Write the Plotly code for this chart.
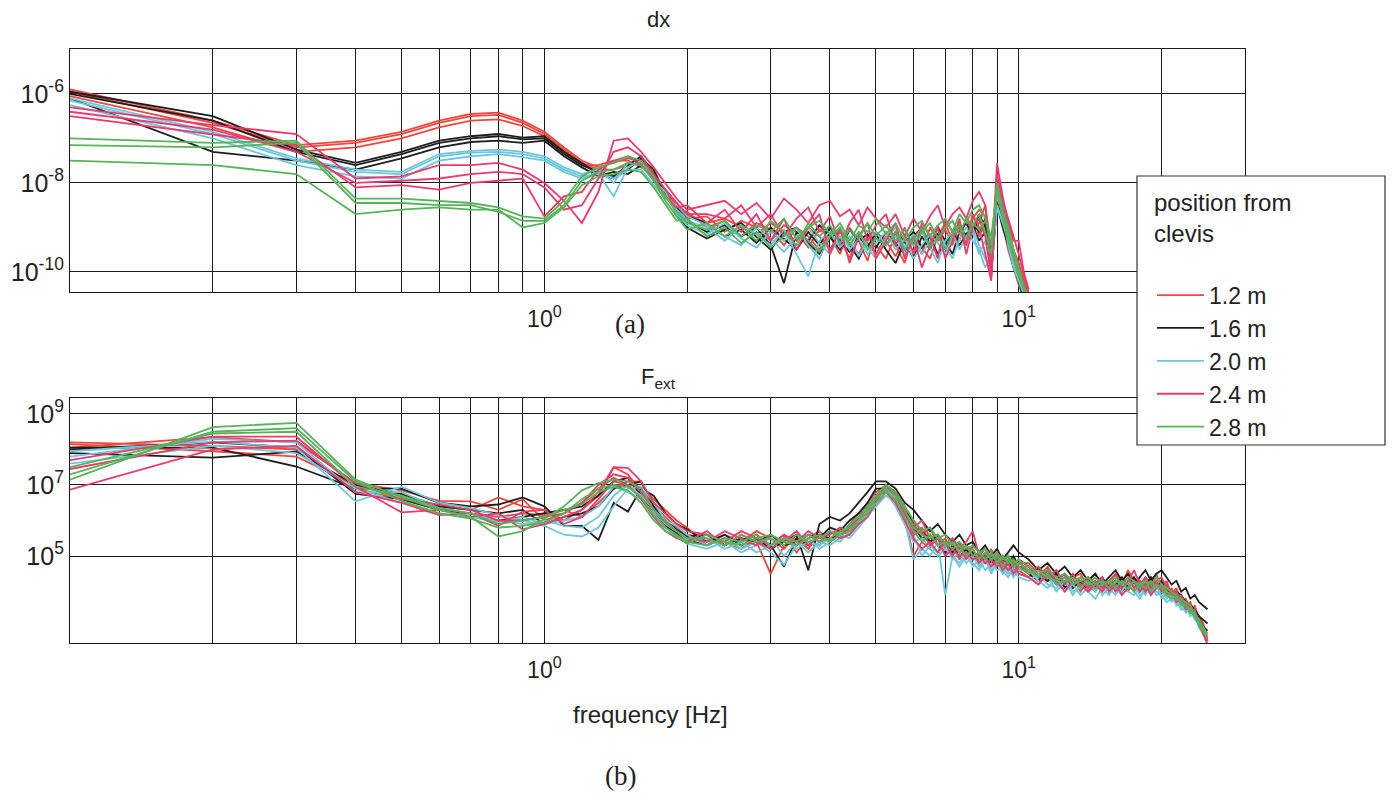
import plotly.graph_objects as go

# ---------------- data (values are log10 of the plotted quantity) ----------------
FREQ_TOP = [0.1, 0.2, 0.3, 0.4, 0.5, 0.6, 0.7, 0.8, 0.9, 1.0, 1.1, 1.2, 1.3, 1.4, 1.5, 1.6, 1.7, 1.8, 1.9, 2.0,
            2.2, 2.4, 2.6, 2.8, 3.0, 3.2, 3.4, 3.6, 3.8, 4.0, 4.2, 4.4, 4.6, 4.8, 5.0,
            5.25, 5.5, 5.75, 6.0, 6.25, 6.5, 6.75, 7.0, 7.25, 7.5, 7.75, 8.0, 8.25, 8.5, 8.75, 9.0, 9.25, 9.5, 9.75,
            10.0, 10.25, 10.5]
FREQ_BOT = [0.1, 0.2, 0.3, 0.4, 0.5, 0.6, 0.7, 0.8, 0.9, 1.0, 1.1, 1.2, 1.3, 1.4, 1.5, 1.6, 1.7, 1.8, 1.9, 2.0,
            2.2, 2.4, 2.6, 2.8, 3.0, 3.2, 3.4, 3.6, 3.8, 4.0, 4.2, 4.4, 4.6, 4.8, 5.0,
            5.25, 5.5, 5.75, 6.0, 6.25, 6.5, 6.75, 7.0, 7.25, 7.5, 7.75, 8.0, 8.25, 8.5, 8.75, 9.0, 9.25, 9.5, 9.75, 10.0,
            10.5, 11.0, 11.5, 12.0, 12.5, 13.0, 13.5, 14.0, 14.5, 15.0, 15.5, 16.0, 16.5, 17.0, 17.5, 18.0, 18.5, 19.0,
            19.5, 20.0, 20.5, 21.0, 21.5, 22.0, 22.5, 23.0, 23.5, 24.0, 24.5, 25.0]

POSITIONS = ["1.2 m", "1.6 m", "2.0 m", "2.4 m", "2.8 m"]
COLORS = ["#f0463c", "#1e1e1e", "#6cc6dc", "#ec3a6c", "#55b35a"]

# dx, log10 values
DX_1_2 = [
    [-5.90, -6.60, -7.15, -7.05, -6.85, -6.60, -6.45, -6.42, -6.60, -6.85, -7.20, -7.50, -7.65, -7.55, -7.45, -7.50, -7.80, -8.20, -8.50, -8.70,
     -8.90, -8.80, -9.00, -9.15, -8.90, -9.10, -9.30, -9.00, -9.20, -9.50, -9.10, -9.35, -9.60, -9.20, -9.40,
     -9.70, -9.15, -9.50, -9.25, -9.60, -9.00, -9.30, -9.05, -9.40, -8.90, -9.20, -8.80, -8.60, -8.75, -9.80, -8.20, -8.70, -9.20, -9.70, -10.00, -10.40, -10.70],
    [-5.95, -6.65, -7.20, -7.10, -6.90, -6.65, -6.50, -6.47, -6.65, -6.90, -7.25, -7.55, -7.70, -7.70, -7.60, -7.55, -7.90, -8.15, -8.45, -8.80,
     -8.75, -9.10, -8.85, -9.00, -9.30, -8.95, -9.10, -9.45, -9.05, -9.20, -9.60, -9.00, -9.30, -9.75, -9.10,
     -9.30, -9.65, -9.20, -9.55, -9.05, -9.40, -8.95, -9.50, -9.10, -9.30, -8.80, -9.10, -8.90, -8.50, -9.50, -8.10, -8.50, -9.00, -9.50, -9.80, -10.20, -10.60],
    [-6.05, -6.75, -7.30, -7.20, -7.00, -6.75, -6.60, -6.57, -6.72, -6.95, -7.30, -7.60, -7.60, -7.50, -7.50, -7.65, -7.75, -8.30, -8.60, -8.65,
     -9.00, -8.85, -9.20, -8.90, -9.05, -9.40, -9.00, -9.20, -9.50, -9.10, -9.25, -9.70, -9.10, -9.35, -9.60,
     -9.20, -9.40, -9.80, -9.10, -9.45, -9.70, -9.20, -8.90, -9.30, -9.00, -9.40, -8.70, -9.20, -8.90, -10.10, -8.40, -8.90, -9.50, -9.90, -10.30, -10.60, -10.80],
]
DX_1_6 = [
    [-5.95, -6.50, -7.25, -7.55, -7.30, -7.05, -6.95, -6.90, -6.98, -6.95, -7.30, -7.55, -7.80, -7.90, -7.70, -7.45, -7.70, -8.25, -8.60, -8.85,
     -9.10, -8.95, -9.20, -9.00, -9.40, -10.25, -9.10, -9.30, -8.95, -9.20, -9.50, -9.05, -9.30, -9.15, -9.45,
     -9.10, -9.35, -9.60, -9.20, -9.00, -9.40, -9.15, -9.50, -9.10, -8.95, -9.20, -8.90, -9.10, -8.80, -9.90, -8.30, -8.80, -9.30, -9.80, -10.10, -10.50, -10.70],
    [-6.00, -6.60, -7.30, -7.60, -7.35, -7.10, -7.00, -6.95, -7.02, -7.00, -7.35, -7.60, -7.75, -7.85, -7.60, -7.40, -7.80, -8.30, -8.55, -8.75,
     -8.90, -9.20, -9.05, -9.35, -9.00, -9.25, -9.50, -9.10, -9.40, -9.00, -9.30, -9.55, -9.20, -9.45, -9.10,
     -9.40, -9.10, -9.30, -9.70, -9.20, -9.50, -9.00, -9.30, -9.60, -9.10, -8.90, -9.20, -8.70, -9.00, -9.60, -8.40, -8.60, -9.10, -9.60, -10.00, -10.30, -10.60],
    [-6.10, -7.30, -7.50, -7.70, -7.45, -7.20, -7.08, -7.05, -7.10, -7.05, -7.40, -7.65, -7.85, -7.75, -7.80, -7.60, -7.90, -8.20, -8.70, -9.00,
     -9.25, -9.05, -8.90, -9.20, -9.50, -9.10, -9.00, -9.35, -9.60, -9.25, -9.05, -9.40, -9.70, -9.30, -9.15,
     -9.50, -9.80, -9.30, -9.10, -9.45, -9.20, -9.60, -9.35, -9.10, -9.40, -9.15, -8.95, -9.30, -9.10, -10.00, -8.50, -9.00, -9.40, -9.90, -10.20, -10.60, -10.80],
]
DX_2_0 = [
    [-6.10, -6.85, -7.45, -7.70, -7.75, -7.35, -7.28, -7.25, -7.30, -7.40, -7.65, -7.80, -7.70, -8.00, -7.55, -7.60, -7.90, -8.30, -8.60, -8.85,
     -9.00, -9.30, -8.95, -9.15, -9.40, -9.05, -9.60, -10.10, -9.30, -9.10, -9.45, -9.20, -9.65, -9.30, -9.10,
     -9.40, -9.20, -9.60, -9.30, -9.10, -9.45, -9.80, -9.30, -9.10, -9.50, -9.20, -9.00, -9.40, -9.70, -10.00, -8.50, -8.90, -9.30, -9.80, -10.10, -10.50, -10.70],
    [-6.15, -6.90, -7.50, -7.75, -7.80, -7.40, -7.32, -7.30, -7.35, -7.45, -7.70, -7.85, -7.80, -8.30, -7.65, -7.50, -7.95, -8.20, -8.70, -8.95,
     -9.15, -8.90, -9.25, -9.45, -9.10, -9.30, -9.00, -9.40, -9.70, -9.20, -9.05, -9.50, -9.25, -9.60, -9.35,
     -9.10, -9.50, -9.25, -9.70, -9.40, -9.15, -9.35, -9.60, -9.20, -9.00, -9.35, -9.10, -9.60, -9.30, -9.70, -8.60, -8.80, -9.20, -9.70, -10.00, -10.40, -10.60],
    [-6.25, -7.00, -7.60, -7.85, -7.90, -7.50, -7.40, -7.35, -7.42, -7.50, -7.75, -7.90, -7.75, -7.90, -7.70, -7.70, -8.05, -8.35, -8.50, -8.75,
     -8.95, -9.20, -9.40, -9.00, -9.25, -9.55, -9.20, -9.00, -9.35, -9.60, -9.20, -9.40, -9.10, -9.45, -9.70,
     -9.25, -9.00, -9.45, -9.15, -9.60, -9.30, -9.05, -9.40, -9.70, -9.25, -9.00, -9.30, -9.50, -9.90, -9.60, -8.30, -8.70, -9.40, -9.90, -10.20, -10.50, -10.80],
]
DX_2_4 = [
    [-6.30, -6.70, -6.90, -7.90, -7.85, -7.60, -7.60, -7.55, -7.70, -8.00, -8.40, -8.90, -8.20, -7.05, -7.00, -7.30, -7.65, -8.00, -8.35, -8.60,
     -8.50, -8.40, -8.70, -8.45, -8.80, -8.35, -8.60, -8.90, -8.50, -8.40, -8.75, -8.60, -8.95, -8.55, -8.80,
     -9.00, -8.70, -9.20, -8.80, -9.10, -8.75, -8.50, -9.00, -8.70, -8.55, -8.80, -8.40, -8.20, -8.50, -9.90, -7.55, -8.30, -8.90, -9.30, -9.30, -10.00, -10.40],
    [-6.40, -6.80, -7.30, -8.00, -7.95, -7.90, -7.80, -7.75, -7.80, -8.10, -8.60, -8.50, -7.90, -7.30, -7.20, -7.40, -7.80, -8.15, -8.45, -8.70,
     -8.70, -8.80, -8.50, -9.00, -8.70, -9.20, -8.80, -8.55, -9.10, -8.75, -9.40, -8.90, -8.60, -9.30, -8.95,
     -8.70, -9.40, -9.00, -9.60, -8.90, -9.20, -9.70, -8.80, -9.10, -9.00, -9.40, -8.70, -9.00, -9.60, -10.20, -7.80, -8.40, -8.80, -9.20, -9.60, -10.10, -10.50],
    [-6.50, -6.90, -7.15, -8.10, -8.05, -8.15, -8.00, -7.95, -7.90, -8.75, -8.30, -8.20, -7.70, -7.50, -7.40, -7.60, -7.90, -8.30, -8.55, -8.50,
     -8.90, -8.60, -9.10, -8.70, -9.30, -8.80, -9.50, -9.00, -8.70, -9.60, -9.00, -9.80, -9.20, -8.90, -9.70,
     -9.30, -8.90, -9.70, -9.20, -9.90, -9.40, -9.00, -9.70, -9.30, -8.80, -9.60, -9.00, -8.80, -9.20, -10.10, -8.00, -8.50, -9.10, -9.50, -9.90, -10.30, -10.60],
]
DX_2_8 = [
    [-7.00, -7.10, -7.05, -8.35, -8.35, -8.40, -8.45, -8.55, -8.75, -8.80, -8.40, -7.85, -7.65, -7.55, -7.40, -7.50, -7.85, -8.30, -8.65, -8.90,
     -9.05, -8.85, -9.20, -8.95, -9.10, -8.80, -9.25, -9.00, -8.85, -9.15, -8.90, -9.30, -8.95, -9.10, -8.80,
     -9.15, -8.90, -9.30, -9.00, -8.85, -9.20, -8.95, -8.80, -9.10, -8.70, -8.90, -8.60, -8.50, -8.80, -9.40, -8.00, -8.60, -9.00, -9.50, -9.90, -10.30, -10.60],
    [-7.15, -7.20, -7.10, -8.45, -8.45, -8.50, -8.50, -8.65, -8.85, -8.85, -8.50, -7.95, -7.75, -7.70, -7.55, -7.60, -7.95, -8.40, -8.75, -9.05,
     -8.90, -9.20, -8.95, -9.30, -8.85, -9.10, -9.40, -8.90, -9.20, -8.95, -9.35, -9.05, -9.25, -8.90, -9.20,
     -8.95, -9.30, -9.05, -9.40, -9.10, -8.90, -9.25, -9.00, -8.85, -9.15, -8.80, -8.95, -8.70, -9.10, -9.60, -8.10, -8.70, -9.10, -9.60, -10.00, -10.40, -10.70],
    [-7.50, -7.60, -7.80, -8.70, -8.60, -8.55, -8.60, -8.60, -9.00, -8.90, -8.55, -8.05, -7.85, -7.80, -7.70, -7.75, -8.10, -8.50, -8.85, -8.80,
     -9.20, -9.00, -9.35, -9.10, -9.45, -9.20, -9.00, -9.30, -9.55, -9.20, -9.00, -9.40, -9.10, -9.50, -9.25,
     -9.40, -9.10, -9.50, -9.25, -9.00, -9.45, -9.20, -9.50, -9.15, -8.95, -9.25, -8.90, -9.05, -8.85, -9.20, -8.20, -8.80, -9.30, -9.70, -10.10, -10.40, -10.80],
]

# F_ext, log10 values
FEXT_1_2 = [
    [8.15, 7.95, 7.80, 7.00, 6.70, 6.40, 6.30, 6.65, 6.40, 6.30, 6.00, 6.30, 6.70, 7.50, 7.30, 6.80, 6.40, 6.10, 5.80, 5.60,
     5.50, 5.30, 5.60, 5.40, 4.50, 5.30, 5.50, 5.20, 5.60, 5.40, 5.70, 5.60, 6.00, 6.30, 6.60,
     6.90, 6.70, 6.10, 5.00, 5.40, 5.20, 5.60, 5.00, 5.30, 4.90, 5.20, 5.00, 4.80, 5.10, 4.70, 5.00, 4.80, 4.60, 4.90, 4.70,
     4.60, 4.40, 4.70, 4.30, 4.50, 4.10, 4.40, 4.20, 4.00, 4.30, 4.10, 4.50, 4.20, 4.60, 4.30, 4.00, 4.40, 4.20, 4.50, 4.10,
     4.30, 3.90, 4.10, 3.70, 3.80, 3.50, 3.60, 3.20, 3.00, 2.70],
    [8.05, 8.35, 8.20, 7.05, 6.85, 6.55, 6.54, 6.30, 6.60, 6.00, 6.20, 6.50, 6.90, 7.20, 7.00, 6.95, 6.60, 6.30, 6.00, 5.80,
     5.30, 5.60, 5.40, 5.70, 5.50, 5.20, 5.60, 5.40, 5.30, 5.70, 5.50, 5.90, 6.20, 6.50, 6.80,
     7.00, 6.80, 6.40, 5.90, 5.60, 5.80, 5.30, 5.50, 5.10, 5.40, 5.00, 5.30, 5.10, 4.90, 5.20, 4.80, 5.00, 4.70, 4.90, 4.60,
     4.40, 4.70, 4.30, 4.50, 4.20, 4.40, 4.00, 4.30, 4.50, 4.10, 4.30, 4.00, 4.40, 4.20, 4.00, 4.30, 4.10, 4.40, 4.20, 4.00,
     3.90, 4.10, 3.80, 3.90, 3.60, 3.70, 3.40, 3.30, 3.10, 2.60],
    [8.20, 8.10, 8.00, 6.90, 6.60, 6.30, 6.20, 6.10, 6.20, 6.15, 6.30, 6.10, 6.50, 6.90, 7.10, 7.10, 6.30, 5.90, 5.60, 5.50,
     5.60, 5.40, 5.20, 5.50, 5.30, 5.60, 5.10, 5.50, 5.70, 5.40, 5.80, 5.70, 5.90, 6.20, 6.40,
     6.80, 6.60, 6.20, 5.70, 5.80, 5.40, 5.50, 5.20, 5.40, 5.10, 5.30, 5.10, 4.90, 5.00, 4.80, 4.90, 4.70, 4.80, 4.60, 4.80,
     4.80, 4.50, 4.30, 4.60, 4.20, 4.40, 4.50, 4.10, 4.30, 4.00, 4.20, 4.30, 4.10, 4.00, 4.40, 4.20, 4.00, 4.30, 4.10, 4.30,
     4.00, 3.80, 4.00, 3.80, 3.60, 3.50, 3.40, 3.20, 3.00, 2.80],
]
FEXT_1_6 = [
    [8.05, 8.05, 7.52, 6.90, 6.90, 6.50, 6.40, 6.45, 6.65, 6.40, 5.85, 5.85, 5.45, 6.50, 6.25, 6.90, 6.70, 6.20, 5.90, 5.75,
     5.40, 5.60, 5.30, 5.50, 5.20, 5.40, 5.60, 4.60, 5.90, 6.10, 6.00, 6.20, 6.50, 6.80, 7.10,
     7.10, 6.90, 6.50, 6.30, 6.00, 5.70, 5.90, 5.60, 5.40, 5.60, 5.30, 5.40, 5.10, 5.30, 5.00, 5.20, 4.90, 5.10, 5.30, 5.10,
     4.90, 4.60, 4.80, 4.50, 4.70, 4.40, 4.60, 4.30, 4.50, 4.20, 4.40, 4.60, 4.30, 4.50, 4.20, 4.40, 4.60, 4.30, 4.50, 4.60,
     4.40, 4.20, 4.30, 4.00, 4.10, 3.80, 3.90, 3.70, 3.60, 3.50],
    [7.90, 7.77, 7.94, 7.00, 6.75, 6.40, 6.30, 6.20, 6.30, 5.90, 6.10, 6.20, 6.40, 6.90, 7.00, 7.10, 6.40, 6.00, 5.75, 5.55,
     5.60, 5.30, 5.50, 5.40, 5.60, 5.30, 5.40, 5.60, 5.50, 5.80, 5.70, 6.00, 6.20, 6.50, 6.90,
     6.90, 6.60, 6.20, 5.80, 5.50, 5.60, 5.30, 5.10, 5.30, 5.00, 5.20, 4.90, 5.10, 4.80, 5.00, 4.70, 4.90, 4.80, 5.00, 4.70,
     4.50, 4.30, 4.60, 4.20, 4.40, 4.10, 4.30, 4.00, 4.20, 4.40, 4.10, 4.30, 4.00, 4.20, 4.40, 4.10, 4.30, 4.00, 4.20, 4.10,
     3.90, 4.00, 3.80, 3.70, 3.60, 3.50, 3.30, 3.20, 3.00, 2.90],
    [8.00, 8.20, 8.05, 6.75, 6.60, 6.30, 6.20, 6.00, 6.10, 6.20, 6.30, 6.40, 6.70, 7.10, 7.20, 6.70, 6.20, 5.85, 5.65, 5.45,
     5.30, 5.50, 5.40, 5.60, 5.30, 4.70, 5.50, 5.30, 5.60, 5.50, 5.60, 5.80, 6.10, 6.40, 6.70,
     7.00, 6.70, 6.30, 6.00, 5.70, 5.40, 5.60, 5.30, 5.10, 5.30, 5.00, 5.10, 4.90, 5.00, 4.80, 4.90, 4.70, 4.90, 4.60, 4.90,
     4.70, 4.40, 4.30, 4.50, 4.10, 4.30, 4.20, 4.40, 4.10, 4.30, 4.00, 4.20, 4.40, 4.10, 4.30, 4.00, 4.20, 4.40, 4.10, 4.30,
     4.10, 3.90, 4.00, 3.90, 3.70, 3.60, 3.50, 3.30, 3.20, 3.10],
]
FEXT_2_0 = [
    [7.95, 8.22, 8.05, 6.54, 6.95, 6.50, 6.35, 6.15, 6.00, 5.85, 5.60, 5.55, 5.80, 6.40, 6.90, 6.95, 6.50, 6.00, 5.85, 5.60,
     5.30, 5.50, 5.20, 5.40, 5.10, 4.75, 5.30, 5.50, 5.20, 5.40, 5.60, 5.50, 5.80, 6.10, 6.40,
     6.70, 6.50, 6.00, 4.90, 5.20, 5.00, 5.40, 3.90, 5.00, 4.70, 5.00, 4.80, 4.60, 4.90, 4.50, 4.80, 4.60, 4.40, 4.70, 4.50,
     4.40, 4.20, 4.50, 4.00, 4.30, 3.90, 4.20, 4.00, 3.80, 4.10, 3.90, 4.20, 4.00, 4.30, 4.00, 3.80, 4.10, 3.90, 4.20, 3.80,
     4.00, 3.70, 3.90, 3.50, 3.60, 3.30, 3.40, 3.00, 2.80, 2.60],
    [7.80, 8.30, 8.20, 6.80, 6.80, 6.35, 6.20, 6.00, 5.90, 6.00, 5.85, 5.80, 6.10, 6.70, 7.00, 6.70, 6.30, 5.90, 5.70, 5.45,
     5.50, 5.20, 5.40, 5.10, 5.30, 5.50, 5.20, 5.40, 5.30, 5.50, 5.40, 5.70, 6.00, 6.30, 6.60,
     6.90, 6.60, 6.20, 5.60, 5.00, 5.30, 5.10, 5.30, 4.90, 5.10, 4.80, 5.00, 4.70, 4.90, 4.60, 4.80, 4.50, 4.70, 4.40, 4.60,
     4.60, 4.30, 4.10, 4.40, 4.00, 4.20, 3.90, 4.10, 4.30, 3.90, 4.10, 3.90, 4.20, 4.00, 3.90, 4.10, 3.90, 4.20, 3.90, 4.00,
     3.80, 3.90, 3.60, 3.70, 3.40, 3.50, 3.20, 3.10, 2.90, 2.70],
    [7.60, 8.10, 7.90, 6.90, 6.50, 6.20, 6.10, 5.95, 6.10, 5.90, 6.00, 6.10, 6.40, 6.95, 6.80, 6.60, 6.20, 5.80, 5.55, 5.35,
     5.20, 5.40, 5.10, 5.30, 5.50, 5.00, 5.40, 5.10, 5.40, 5.30, 5.50, 5.60, 5.90, 6.20, 6.50,
     6.80, 6.40, 5.90, 5.40, 5.50, 5.20, 5.00, 5.20, 5.00, 4.80, 5.10, 4.70, 4.90, 4.60, 4.80, 4.60, 4.70, 4.50, 4.60, 4.40,
     4.30, 4.50, 4.20, 4.10, 4.40, 4.00, 4.10, 4.30, 4.00, 4.20, 4.00, 4.10, 3.90, 4.10, 4.20, 3.90, 4.00, 4.10, 4.00, 3.90,
     3.70, 3.80, 3.70, 3.50, 3.50, 3.40, 3.30, 3.00, 2.80, 2.65],
]
FEXT_2_4 = [
    [7.70, 8.36, 8.36, 6.95, 6.23, 6.30, 6.10, 6.20, 5.75, 5.90, 6.10, 6.30, 6.80, 7.50, 7.48, 7.10, 6.50, 6.20, 5.90, 5.70,
     5.60, 5.40, 5.70, 5.50, 5.30, 5.60, 5.40, 5.70, 5.50, 5.60, 5.80, 5.70, 6.00, 6.30, 6.60,
     6.90, 6.80, 6.30, 5.80, 6.00, 5.50, 5.60, 5.30, 5.50, 5.20, 5.40, 5.70, 5.00, 5.20, 4.90, 5.10, 4.80, 5.00, 4.70, 4.90,
     4.50, 4.70, 4.40, 4.60, 4.20, 4.50, 4.10, 4.40, 4.20, 4.00, 4.30, 4.50, 4.10, 4.30, 4.60, 4.20, 4.40, 4.10, 4.30, 4.40,
     4.10, 4.00, 3.80, 3.90, 3.60, 3.50, 3.30, 3.10, 2.80, 2.50],
    [7.45, 8.20, 8.25, 7.05, 6.60, 6.45, 6.30, 6.00, 6.00, 6.10, 6.20, 6.50, 7.00, 7.30, 7.20, 6.80, 6.30, 5.95, 5.70, 5.50,
     5.40, 5.70, 5.50, 5.30, 5.60, 5.40, 5.70, 5.30, 5.60, 5.40, 5.60, 5.80, 6.10, 6.40, 6.70,
     6.80, 6.50, 6.00, 5.50, 5.20, 5.40, 5.10, 5.40, 5.00, 5.30, 4.90, 5.20, 4.80, 5.00, 4.70, 4.90, 4.60, 4.80, 4.50, 4.70,
     4.70, 4.40, 4.60, 4.30, 4.50, 4.20, 4.30, 4.10, 4.30, 4.10, 4.30, 4.00, 4.20, 4.40, 4.10, 4.30, 4.00, 4.20, 4.30, 4.00,
     4.20, 3.90, 4.00, 3.70, 3.70, 3.40, 3.50, 3.10, 2.90, 2.60],
    [6.87, 8.00, 8.10, 6.80, 6.50, 6.15, 6.20, 5.85, 6.25, 6.30, 5.90, 6.10, 6.60, 7.10, 7.00, 6.60, 6.10, 5.70, 5.50, 5.40,
     5.70, 5.30, 5.60, 5.40, 5.20, 5.50, 5.30, 5.60, 5.40, 5.70, 5.50, 5.60, 5.90, 6.10, 6.50,
     7.00, 6.70, 6.20, 5.60, 5.70, 5.30, 5.50, 5.00, 5.20, 5.00, 5.10, 4.90, 5.00, 4.80, 4.90, 4.70, 4.80, 4.60, 4.80, 4.50,
     4.40, 4.20, 4.50, 4.30, 4.00, 4.30, 4.20, 4.00, 4.20, 4.40, 4.00, 4.20, 3.90, 4.10, 4.30, 4.00, 4.20, 3.90, 4.10, 4.20,
     3.90, 4.00, 3.70, 3.80, 3.50, 3.60, 3.30, 3.20, 2.90, 2.70],
]
FEXT_2_8 = [
    [7.15, 8.63, 8.75, 7.15, 6.65, 6.30, 6.10, 5.55, 5.70, 6.05, 6.40, 6.85, 7.05, 7.15, 7.10, 6.90, 6.30, 6.00, 5.70, 5.50,
     5.50, 5.30, 5.60, 5.40, 5.50, 5.30, 5.60, 5.40, 5.50, 5.70, 5.60, 5.90, 6.10, 6.40, 6.70,
     7.00, 6.80, 6.40, 6.00, 5.70, 5.80, 5.50, 5.60, 5.30, 5.40, 5.20, 5.30, 5.10, 5.20, 5.00, 5.10, 4.90, 5.00, 4.80, 4.90,
     4.70, 4.50, 4.60, 4.40, 4.50, 4.30, 4.40, 4.20, 4.40, 4.20, 4.30, 4.40, 4.20, 4.40, 4.30, 4.10, 4.30, 4.20, 4.40, 4.20,
     4.10, 4.00, 3.90, 3.80, 3.70, 3.60, 3.40, 3.20, 3.00, 2.80],
    [7.30, 8.50, 8.60, 7.10, 6.55, 6.20, 6.05, 5.80, 5.85, 5.95, 6.20, 6.60, 6.90, 7.00, 6.95, 6.65, 6.15, 5.80, 5.60, 5.40,
     5.30, 5.50, 5.40, 5.60, 5.30, 5.50, 5.40, 5.60, 5.40, 5.50, 5.70, 5.80, 6.00, 6.30, 6.60,
     6.90, 6.70, 6.30, 5.80, 5.60, 5.50, 5.60, 5.30, 5.40, 5.10, 5.30, 5.00, 5.10, 4.90, 5.10, 4.80, 5.00, 4.80, 4.90, 4.70,
     4.50, 4.60, 4.40, 4.30, 4.40, 4.20, 4.30, 4.40, 4.20, 4.30, 4.10, 4.30, 4.20, 4.10, 4.30, 4.20, 4.10, 4.30, 4.10, 4.20,
     4.00, 3.90, 3.80, 3.70, 3.60, 3.50, 3.30, 3.10, 2.90, 2.70],
    [7.50, 8.45, 8.50, 6.95, 6.70, 6.35, 6.20, 5.90, 6.00, 6.10, 6.30, 6.45, 6.80, 6.95, 6.85, 6.50, 6.00, 5.70, 5.55, 5.35,
     5.60, 5.40, 5.30, 5.50, 5.60, 5.40, 5.30, 5.50, 5.60, 5.40, 5.60, 5.70, 6.00, 6.20, 6.50,
     6.80, 6.60, 6.10, 5.70, 5.40, 5.60, 5.30, 5.40, 5.20, 5.30, 5.00, 5.20, 4.90, 5.10, 4.90, 5.00, 4.70, 4.90, 4.70, 4.80,
     4.60, 4.40, 4.50, 4.20, 4.30, 4.40, 4.10, 4.30, 4.10, 4.20, 4.30, 4.10, 4.30, 4.20, 4.00, 4.20, 4.30, 4.00, 4.20, 4.10,
     3.90, 3.80, 3.90, 3.60, 3.60, 3.40, 3.40, 3.00, 2.90, 2.70],
]

DX_SETS = [DX_1_2, DX_1_6, DX_2_0, DX_2_4, DX_2_8]
FEXT_SETS = [FEXT_1_2, FEXT_1_6, FEXT_2_0, FEXT_2_4, FEXT_2_8]

X_GRID = [0.1, 0.2, 0.3, 0.4, 0.5, 0.6, 0.7, 0.8, 0.9, 1, 2, 3, 4, 5, 6, 7, 8, 9, 10, 20, 30]
X_LABELS = {1: "10<sup>0</sup>", 10: "10<sup>1</sup>"}
DX_TICKS = [1e-10, 1e-8, 1e-6]
DX_TICKTEXT = ["10<sup>-10</sup>", "10<sup>-8</sup>", "10<sup>-6</sup>"]
FEXT_TICKS = [1e5, 1e7, 1e9]
FEXT_TICKTEXT = ["10<sup>5</sup>", "10<sup>7</sup>", "10<sup>9</sup>"]

for s in DX_SETS:
    for tr in s:
        assert len(tr) == len(FREQ_TOP), len(tr)
for s in FEXT_SETS:
    for tr in s:
        assert len(tr) == len(FREQ_BOT), len(tr)

# ---------------- figure ----------------
W, H = 1393, 799
ML, MR, MT, MB = 70, 148, 48, 156
PW, PH = W - ML - MR, H - MT - MB


def px(x):
    return (x - ML) / PW


def py(y):
    return (H - MB - y) / PH


fig = go.Figure()
for i, name in enumerate(POSITIONS):
    for j, tr in enumerate(DX_SETS[i]):
        fig.add_trace(go.Scatter(x=FREQ_TOP, y=[10 ** v for v in tr], mode="lines",
                                 line=dict(color=COLORS[i], width=1.8), name=name,
                                 legendgroup=name, showlegend=(j == 0), xaxis="x", yaxis="y"))
for i, name in enumerate(POSITIONS):
    for j, tr in enumerate(FEXT_SETS[i]):
        fig.add_trace(go.Scatter(x=FREQ_BOT, y=[10 ** v for v in tr], mode="lines",
                                 line=dict(color=COLORS[i], width=1.8), name=name,
                                 legendgroup=name, showlegend=False, xaxis="x2", yaxis="y2"))

font = "Liberation Sans, Arial, sans-serif"
serif = "Liberation Serif, Times New Roman, serif"
xt = [X_LABELS.get(v, "") for v in X_GRID]
xcommon = dict(type="log", range=[-1, 1.477], tickmode="array", tickvals=X_GRID, ticktext=xt,
               showgrid=True, gridcolor="#1a1a1a", gridwidth=1.2, showline=True, mirror=True,
               linecolor="#1a1a1a", linewidth=1.2, ticks="", zeroline=False, ticklabelstandoff=6,
               tickfont=dict(family=font, size=23, color="#222"))
ycommon = dict(type="log", tickmode="array", showgrid=True, gridcolor="#1a1a1a", gridwidth=1.2,
               showline=True, mirror=True, linecolor="#1a1a1a", linewidth=1.2, ticks="",
               zeroline=False, tickfont=dict(family=font, size=25, color="#222"))

y1_dom = [py(292), py(49)]
y2_dom = [0, py(398)]

ann = dict(xref="paper", yref="paper", showarrow=False, xanchor="center", yanchor="middle")

fig.update_layout(
    width=W, height=H,
    margin=dict(l=ML, r=MR, t=MT, b=MB),
    paper_bgcolor="white", plot_bgcolor="white",
    showlegend=True,
    xaxis=dict(xcommon, domain=[0, 1], anchor="y"),
    yaxis=dict(ycommon, domain=y1_dom, anchor="x", range=[-10.45, -4.99],
               tickvals=DX_TICKS, ticktext=DX_TICKTEXT),
    xaxis2=dict(xcommon, domain=[0, 1], anchor="y2"),
    yaxis2=dict(ycommon, domain=y2_dom, anchor="x2", range=[2.55, 9.45],
                tickvals=FEXT_TICKS, ticktext=FEXT_TICKTEXT),
    legend=dict(x=px(1152), y=py(180), xanchor="left", yanchor="top",
                bgcolor="rgba(0,0,0,0)", borderwidth=0, itemwidth=47,
                font=dict(family=font, size=23, color="#222"),
                title=dict(text="position from<br>clevis<br> ", font=dict(family=font, size=24, color="#222")),
                tracegroupgap=0),
    shapes=[dict(type="rect", xref="paper", yref="paper", x0=px(1137), x1=px(1385), y0=py(445), y1=py(176),
                 fillcolor="white", line=dict(color="#333", width=1.2), layer="above")],
    annotations=[
        dict(ann, text="dx", x=px(658), y=py(20), font=dict(family=font, size=22, color="#222")),
        dict(ann, text="F<sub>ext</sub>", x=px(658), y=py(378), font=dict(family=font, size=22, color="#222")),
        dict(ann, text="(a)", x=px(630), y=py(324), font=dict(family=serif, size=27, color="#222")),
        dict(ann, text="frequency [Hz]", x=px(650), y=py(714), font=dict(family=font, size=24, color="#222")),
        dict(ann, text="(b)", x=px(620), y=py(776), font=dict(family=serif, size=27, color="#222")),
    ],
)

fig.write_html("out.html", config={"displayModeBar": False},
               post_script="document.body.style.margin='0px';")
